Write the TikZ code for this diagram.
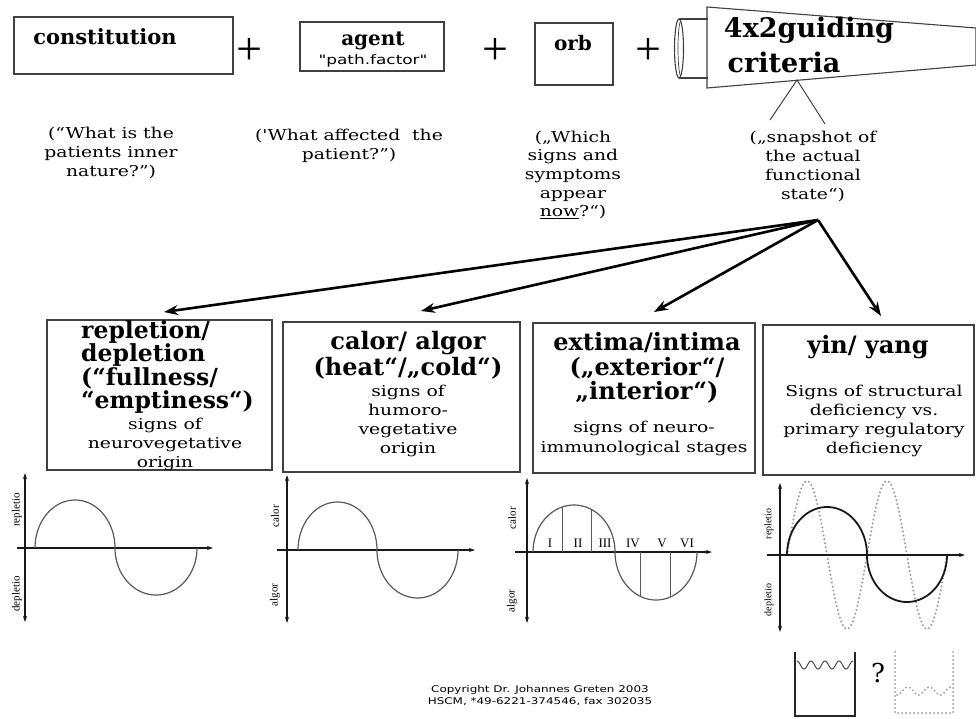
\documentclass[tikz,border=0pt]{standalone}
\usepackage{fontspec}
\setmainfont{DejaVu Serif}
\newfontfamily\wideserif[FakeStretch=1.25]{DejaVu Serif}
\newfontfamily\widesans[FakeStretch=1.3]{DejaVu Sans}
\newfontfamily\lserif{Liberation Serif}
\newfontfamily\dsans{DejaVu Sans}
\usetikzlibrary{arrows.meta,calc}
\begin{document}
\begin{tikzpicture}[x=1pt,y=-1pt,
  frame/.style={draw=black!75, line width=1.1pt, inner sep=0pt},
  ttl/.style={font=\bfseries\fontsize{24}{24.5}\selectfont, inner sep=0pt},
  qtxt/.style={font=\wideserif\fontsize{15}{18.7}\selectfont, align=center, inner sep=0pt},
  body/.style={font=\wideserif\fontsize{15}{19.5}\selectfont, align=center, inner sep=0pt},
  arr/.style={line width=2.6pt, -{Stealth[length=14pt,width=10pt]}},
  axis/.style={line width=1.6pt, black!90},
  dbl/.style={axis, {Stealth[length=6pt,width=4pt]}-{Stealth[length=6pt,width=4pt]}},
  rgt/.style={axis, line width=1.3pt, -{Stealth[length=6pt,width=4pt]}},
  wave/.style={line width=1.2pt, black!65},
  plussign/.style={font=\lserif\fontsize{46}{46}\selectfont, inner sep=0pt},
  lab/.style={font=\lserif\fontsize{11}{11}\selectfont, rotate=90, inner sep=0pt},
  roman/.style={font=\lserif\fontsize{13}{13}\selectfont, inner sep=0pt},
  dots/.style={line width=2.2pt, gray!80, dash pattern=on 0pt off 4pt, line cap=round}
]
\fill[white] (0,0) rectangle (976,718);
\useasboundingbox (0,0) rectangle (976,718);

% ---------- top row ----------
\node[frame, minimum width=219pt, minimum height=57pt] (con) at (123.5,45.5) {};
\node[ttl, font=\bfseries\fontsize{21}{21}\selectfont] (contxt) at (105,37) {constitution};
\node[plussign] (p1) at (249,52) {+};

\node[frame, minimum width=144pt, minimum height=49pt] (agt) at (372,46.5) {};
\node[ttl, font=\bfseries\fontsize{20}{20}\selectfont] (agttxt) at (373,41) {agent};
\node[font=\widesans\fontsize{13}{13}\selectfont, inner sep=0pt] (pf) at (373,61) {"path.factor"};
\node[plussign] (p2) at (495,52) {+};

\node[frame, minimum width=78pt, minimum height=62pt] (orb) at (574,54) {};
\node[ttl, font=\bfseries\fontsize{20}{20}\selectfont] (orbtxt) at (573,43) {orb};
\node[plussign] (p3) at (648,52) {+};

% cylinder + funnel
\draw[black!75, line width=1.1pt] (679,19) -- (708,19) (679,78) -- (708,78);
\draw[black!75, line width=1.1pt] (679,48.5) ellipse [x radius=4.5, y radius=29.5];
\draw[black!75, line width=0.7pt] plot[domain=100:260, samples=40] ({681+3*cos(\x)},{48.5+27.5*sin(\x)});
\draw[black!75, line width=1.1pt] (707,7) -- (976,28) -- (976,65) -- (707,88) -- cycle;
\node[ttl, font=\bfseries\fontsize{27}{27}\selectfont] (c1) at (809,30) {4x2guiding};
\node[ttl, font=\bfseries\fontsize{27}{27}\selectfont] (c2) at (784,62) {criteria};
\coordinate (fa) at (797,80);
\coordinate (fl) at (770,120);
\coordinate (fr) at (825,124);
\draw[black!80, line width=0.9pt] (fl) -- (fa) -- (fr);

% ---------- questions ----------
\node[qtxt] (q1) at (111,153) {(“What is the\\patients inner\\nature?”)};
\node[qtxt] (q2) at (349,146) {('What affected\ \ the\\patient?”)};
\node[qtxt] (q3) at (573,175) {(„Which\\signs and\\symptoms\\appear\\\underline{now}?“)};
\node[qtxt] (q4) at (813,166.5) {(„snapshot of\\the actual\\functional\\state“)};

% ---------- arrows ----------
\coordinate (ap) at (818,220);
\coordinate (t1) at (164,312);
\coordinate (t2) at (421,311);
\coordinate (t3) at (654,312);
\coordinate (t4) at (881,316);
\draw[arr] (ap) -- (t1);
\draw[arr] (ap) -- (t2);
\draw[arr] (ap) -- (t3);
\draw[arr] (ap) -- (t4);

% ---------- four boxes ----------
\node[frame, minimum width=225pt, minimum height=150pt] (rep) at (159.5,395) {};
\node[frame, minimum width=237pt, minimum height=150pt] (cal) at (401.5,397) {};
\node[frame, minimum width=222pt, minimum height=150pt] (ext) at (644,398) {};
\node[frame, minimum width=211pt, minimum height=150pt] (yin) at (868.5,400) {};

\node[ttl, align=left, anchor=west, font=\bfseries\fontsize{23.5}{23.5}\selectfont] (reptl) at (81,367) {repletion/\\depletion\\(“fullness/\\“emptiness“)};
\node[body, font=\wideserif\fontsize{15}{19}\selectfont] (repbd) at (165,444) {signs of\\neurovegetative\\origin};

\node[ttl, align=center, font=\bfseries\fontsize{24}{26}\selectfont] (caltl) at (408,355) {calor/ algor\\(heat“/„cold“)};
\node[body, font=\wideserif\fontsize{15}{18.7}\selectfont] (calbd) at (408,421) {signs of\\humoro-\\vegetative\\origin};

\node[ttl, align=center, font=\bfseries\fontsize{24}{24.5}\selectfont] (exttl) at (647,368) {extima/intima\\(„exterior“/\\„interior“)};
\node[body, font=\wideserif\fontsize{15}{20}\selectfont] (extbd) at (644,438) {signs of neuro-\\immunological stages};

\node[ttl] (yintl) at (868,347) {yin/ yang};
\node[body, font=\wideserif\fontsize{15}{19.3}\selectfont] (yinbd) at (874,421) {Signs of structural\\deficiency vs.\\primary regulatory\\deficiency};

% ---------- graph 1 ----------
\draw[dbl] (25,473) -- (25,622);
\draw[rgt] (17,548) -- (213,548);
\draw[wave] plot[domain=180:360, samples=60] ({75+40*cos(\x)},{548+48*sin(\x)});
\draw[wave] plot[domain=180:0, samples=60] ({156+41*cos(\x)},{548+47*sin(\x)});
\node[lab] (g1a) at (17,510) {repletio};
\node[lab] (g1b) at (17,594) {depletio};

% ---------- graph 2 ----------
\draw[dbl] (287,475) -- (287,623);
\draw[rgt] (277,550) -- (475,550);
\draw[wave] plot[domain=180:360, samples=60] ({337.5+39.5*cos(\x)},{550+48*sin(\x)});
\draw[wave] plot[domain=180:0, samples=60] ({417.5+40.5*cos(\x)},{550+48*sin(\x)});
\node[lab] (g2a) at (275,516) {calor};
\node[lab] (g2b) at (275,595) {algor};

% ---------- graph 3 ----------
\draw[dbl] (527,478) -- (527,623);
\draw[rgt] (515,552) -- (712,552);
\draw[wave] plot[domain=180:360, samples=60] ({574+41*cos(\x)},{552+47*sin(\x)});
\draw[wave] plot[domain=180:0, samples=60] ({656+41*cos(\x)},{552+48*sin(\x)});
\draw[wave, line width=1pt] (562,552) -- (562,507) (591,552) -- (591,509)
  (640,552) -- (640,596) (670,552) -- (670,597);
\node[roman] (r1) at (550,543) {I};
\node[roman] (r2) at (578,543) {II};
\node[roman] (r3) at (605,543) {III};
\node[roman] (r4) at (633,543) {IV};
\node[roman] (r5) at (662,543) {V};
\node[roman] (r6) at (687,543) {VI};
\node[lab] (g3a) at (512,518) {calor};
\node[lab] (g3b) at (512,601) {algor};

% ---------- graph 4 ----------
\draw[dots] plot[domain=787:947, samples=240] (\x,{555-74*sin(4.5*(\x-787))});
\draw[dbl] (780,483) -- (780,632);
\draw[rgt] (767,555) -- (965,555);
\draw[line width=1.8pt, black!90] plot[domain=180:360, samples=60] ({827+40*cos(\x)},{555+48*sin(\x)});
\draw[line width=1.8pt, black!90] plot[domain=180:0, samples=60] ({907+40*cos(\x)},{555+47*sin(\x)});
\node[lab, font=\lserif\fontsize{10}{10}\selectfont] (g4a) at (769,524) {repletio};
\node[lab, font=\lserif\fontsize{10}{10}\selectfont] (g4b) at (769,600) {depletio};

% cups
\draw[line width=1.3pt, black!85] (795,652) -- (795,716) -- (855,716) -- (855,652);
\draw[line width=1pt, black!70] plot[domain=797:853, samples=120] (\x,{665-4*cos(25.714*(\x-797))});
\node[font=\fontsize{26}{26}\selectfont, inner sep=0pt] (qm) at (878,673) {?};
\draw[dots, line width=2pt] (895,652) -- (895,713) -- (953,713) -- (953,652);
\draw[dots, line width=2pt] plot[domain=897:951, samples=120] (\x,{691+4*cos(16.667*(\x-897))});

% copyright
\node[font=\widesans\fontsize{9.2}{12}\selectfont, align=center, inner sep=0pt] (copy) at (540,696)
  {Copyright Dr. Johannes Greten 2003\\HSCM, *49-6221-374546, fax 302035};
\end{tikzpicture}
\end{document}
